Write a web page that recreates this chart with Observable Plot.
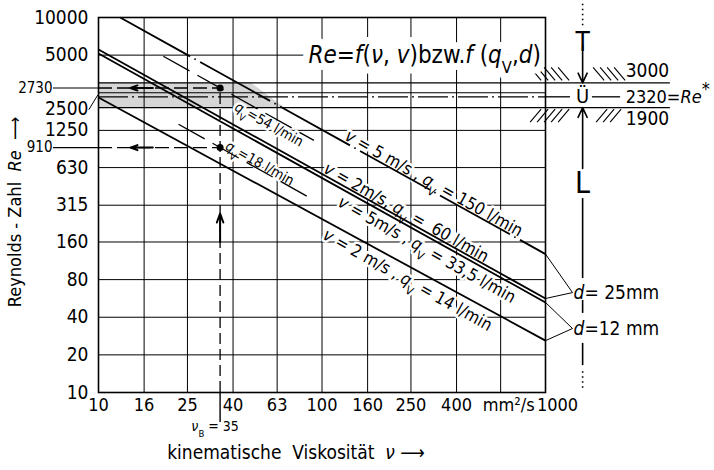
<!DOCTYPE html>
<html><head><meta charset="utf-8">
<script src="https://cdn.jsdelivr.net/npm/d3@7"></script>
<script src="https://cdn.jsdelivr.net/npm/@observablehq/plot@0.6"></script>
<style>html,body{margin:0;padding:0;background:#fff;}</style>
</head><body><div id="chart"></div>
<script>
const FONT = '"Liberation Sans Narrow","DejaVu Sans Condensed","Roboto",sans-serif';

// ---- axes ----
const xTicks = [10, 16, 25, 40, 63, 100, 160, 250, 400, 630, 1000];
const xTickLabels = ["10", "16", "25", "40", "63", "100", "160", "250", "400", "mm²/s", "1000"];
const yTicks = [10, 20, 40, 80, 160, 315, 630, 1250, 2500, 5000, 10000];
const yTickLabels = ["10", "20", "40", "80", "160", "315", "630", "1250", "2500", "5000", "10000"];

// ---- Re = f(nu) lines (end points) ----
const lineNames = ["v=5 m/s d=25", "v=2 m/s d=25", "v=5 m/s d=12", "v=2 m/s d=12"];
const lineNu0 = [12.5, 10, 10, 10];
const lineRe0 = [10000, 5550, 5150, 2290];
const lineNu1 = [1000, 1000, 1000, 1000];
const lineRe1 = [128, 56.5, 52.5, 26];
const lineLabels = [
  "<i>v</i> = 5 m/s , <i>q</i><sub>V</sub> = 150 l/min",
  "<i>v</i> = 2m/s, <i>q</i><sub>V</sub> =  60 l/min",
  "<i>v</i> = 5m/s , <i>q</i><sub>V</sub> = 33,5 l/min",
  "<i>v</i> = 2 m/s , <i>q</i><sub>V</sub> = 14 l/min"
];
const lineLabelNu = [125, 100.5, 123.6, 106];
const lineLabelRe = [1022, 560, 424, 232];

// ---- reading example ----
const nuB = 35;
const readRe = [2730, 910];
const readLabels = ["2730", "910"];
const readNu0 = [19.5, 22.8];
const readRe0 = [4900, 1400];
const readNu1 = [92, 87];
const readRe1 = [1040, 366];
const readFlow = ["<i>q</i><sub>V</sub>=54 l/min", "<i>q</i><sub>V</sub>=18 l/min"];
const readFlowNu = [42.3, 36.6];
const readFlowRe = [2265, 873];

// ---- transition zone ----
const reUpper = 3000, reCrit = 2320, reLower = 1900;
const zoneLabels = ["3000", "2320=<i>Re</i><hi>*</hi>", "1900"];
const bandNu = [10, 48, 68];
const bandLo = [1900, 1900, 1900];
const bandHi = [3000, 3000, 1900];

// ---- right-hand scale bar (layout anchors in data units) ----
const sideNu = 1466;
const dLabels = ["<i>d</i>= 25mm", "<i>d</i>=12 mm"];
const dJoinNu = 1321;
const dJoinRe = [63, 32.5];

// ---- tables ----
const reLines = lineNames.map((name, i) => ({name, nu0: lineNu0[i], re0: lineRe0[i], nu1: lineNu1[i], re1: lineRe1[i], label: lineLabels[i], lnu: lineLabelNu[i], lre: lineLabelRe[i]}));
const readLines = readRe.map((re, i) => ({re, label: readLabels[i], nu0: readNu0[i], re0: readRe0[i], nu1: readNu1[i], re1: readRe1[i], flow: readFlow[i], fnu: readFlowNu[i], fre: readFlowRe[i]}));
const band = bandNu.map((nu, i) => ({nu, lo: bandLo[i], hi: bandHi[i]}));
const xTab = xTicks.map((v, i) => ({v, label: xTickLabels[i]}));
const yTab = yTicks.map((v, i) => ({v, label: yTickLabels[i]}));
const dLeaders = [
  {nu: 1000, re: lineRe1[0], jre: dJoinRe[0]},
  {nu: 1000, re: lineRe1[1], jre: dJoinRe[0]},
  {nu: 1000, re: lineRe1[2], jre: dJoinRe[1]},
  {nu: 1000, re: lineRe1[3], jre: dJoinRe[1]}
];

// text with a white halo drawn as a separate layer underneath
function haloText(data, opts, w = 5) {
  return [
    Plot.text(data, {...opts, fill: "white", stroke: "white", strokeWidth: w}),
    Plot.text(data, {...opts, fill: "black"})
  ];
}

function hatchMark(index, scales) {
  const X = typeof scales.x === "function" ? scales.x : d3.scaleLog([10, 1000], [98, 545]);
  const Y = typeof scales.y === "function" ? scales.y : d3.scaleLog([10, 10000], [392, 17]);
  const g = d3.create("svg:g").attr("stroke", "black").attr("stroke-width", 1.1);
  const cx = X(sideNu), yt = Y(reUpper), yb = Y(reLower);
  for (const o of [-52, -45, -38, -31, -24, 11, 18, 25, 32]) {
    g.append("line").attr("x1", cx + o).attr("y1", yt - 15).attr("x2", cx + o + 11).attr("y2", yt - 2);
  }
  for (const o of [-52, -45, -38, -31, -24, 14, 21, 28]) {
    g.append("line").attr("x1", cx + o).attr("y1", yb + 15).attr("x2", cx + o + 11).attr("y2", yb + 2);
  }
  return g.node();
}

const chart = Plot.plot({
  width: 714, height: 470,
  marginLeft: 98, marginRight: 169, marginTop: 17, marginBottom: 78,
  x: {type: "log", domain: [10, 1000], axis: null},
  y: {type: "log", domain: [10, 10000], axis: null},
  style: {fontFamily: FONT, fontSize: "18px", background: "white", color: "black"},
  marks: [
    // shaded transition band
    Plot.areaY(band, {x: "nu", y1: "lo", y2: "hi", fill: "#d6d6d6"}),
    // grid
    Plot.ruleX(xTicks.slice(1, -1), {stroke: "black", strokeWidth: 1}),
    Plot.ruleY(yTicks.slice(1, -1), {stroke: "black", strokeWidth: 1}),
    // transition lines
    Plot.ruleY([reUpper, reLower], {x1: 10, x2: 3620, stroke: "black", strokeWidth: 1.4}),
    Plot.ruleY([reCrit], {x1: 10, x2: 1000, stroke: "black", strokeWidth: 1.3, strokeDasharray: "30,4,2,4"}),
    Plot.ruleY([reCrit], {x1: 1000, x2: 1294, stroke: "black", strokeWidth: 1.3}),
    Plot.ruleY([reCrit], {x1: 1622, x2: 2168, stroke: "black", strokeWidth: 1.3}),
    hatchMark,
    // tick labels
    Plot.text(yTab.filter(d => d.v !== 2500), {y: "v", text: "label", frameAnchor: "left", dx: -10, textAnchor: "end", fontSize: 19}),
    Plot.text(yTab.filter(d => d.v === 2500), {y: "v", text: "label", frameAnchor: "left", dx: -10, dy: 16, textAnchor: "end", fontSize: 19}),
    Plot.link([2500], {x1: 9.05, y1: 1830, x2: 9.93, y2: 2400, stroke: "black", strokeWidth: 1}),
    Plot.text(xTab.slice(0, 9), {x: "v", text: "label", frameAnchor: "bottom", dy: 18, fontSize: 18}),
    Plot.text(xTab.slice(9, 10), {x: "v", text: "label", frameAnchor: "bottom", dy: 18, dx: 8, fontSize: 18}),
    Plot.text(xTab.slice(10), {x: "v", text: "label", frameAnchor: "bottom", dy: 18, dx: 12, fontSize: 18}),
    // axis titles
    Plot.text(["Reynolds - Zahl  <i>Re</i>  ⟶"], {text: d => d, frameAnchor: "left", textAnchor: "middle", dx: -83, dy: 7, rotate: -90, fontSize: 18}),
    Plot.text(["kinematische  Viskosität  <i>ν</i> ⟶"], {text: d => d, frameAnchor: "bottom", textAnchor: "middle", dx: -26, dy: 66, fontSize: 19}),
    // title
    haloText(["<i>Re</i>=<i>f</i>(<i>ν</i>, <i>v</i>)bzw.<i>f</i> (<i>q</i><sub>V</sub>,<i>d</i>)"], {text: d => d, x: 87, y: 5000, textAnchor: "start", fontSize: 24}, 14),
    // line labels
    haloText(reLines.filter((d, i) => i < 2), {x: "lnu", y: "lre", text: "label", rotate: 29.2, textAnchor: "start", lineAnchor: "bottom", dy: -2, fontSize: 17}),
    haloText(reLines.filter((d, i) => i >= 2), {x: "lnu", y: "lre", text: "label", rotate: 29.2, textAnchor: "start", lineAnchor: "top", dy: 6, fontSize: 17}),
    haloText(readLines.filter((d, i) => i === 0), {x: "fnu", y: "fre", text: "flow", rotate: 29.2, textAnchor: "start", lineAnchor: "top", dy: 3, fontSize: 14}),
    haloText(readLines.filter((d, i) => i === 1), {x: "fnu", y: "fre", text: "flow", rotate: 29.2, textAnchor: "start", lineAnchor: "bottom", dy: -1, fontSize: 14}),
    // Re lines
    Plot.link(reLines.slice(0, 1), {x1: "nu0", y1: "re0", x2: "nu1", y2: "re1", stroke: "black", strokeWidth: 1.8, strokeDasharray: "80,5,1.5,5"}),
    Plot.link(reLines.slice(1), {x1: "nu0", y1: "re0", x2: "nu1", y2: "re1", stroke: "black", strokeWidth: 1.8}),
    // reading lines
    Plot.link(readLines, {x1: "nu0", y1: "re0", x2: "nu1", y2: "re1", stroke: "black", strokeWidth: 1.3, strokeDasharray: "30,9"}),
    Plot.ruleY(readLines, {y: "re", x1: 10, x2: nuB, stroke: "black", strokeWidth: 1.3, strokeDasharray: "14,5"}),
    Plot.ruleY(readLines, {y: "re", x1: 6.29, x2: 10, stroke: "black", strokeWidth: 1.2}),
    Plot.arrow(readLines, {x1: 17.5, x2: 13.9, y1: "re", y2: "re", stroke: "black", strokeWidth: 2, headLength: 12, headAngle: 40}),
    Plot.text(readLines, {x: 6.29, y: "re", text: "label", textAnchor: "end", dx: -1, fontSize: 15}),
    Plot.ruleX([nuB], {y1: 10, y2: readRe[0], stroke: "black", strokeWidth: 1.3, strokeDasharray: "11,5"}),
    Plot.ruleX([nuB], {y1: 5.75, y2: 10, stroke: "black", strokeWidth: 1.4}),
    Plot.arrow([nuB], {x1: d => d, x2: d => d, y1: 160, y2: 270, stroke: "black", strokeWidth: 2, headLength: 12, headAngle: 40}),
    Plot.text([nuB], {x: d => d, text: d => `<i>ν</i><sub>B</sub> = ${d}`, frameAnchor: "bottom", textAnchor: "middle", dy: 38, dx: -5, fontSize: 14}),
    Plot.dot(readLines, {x: nuB, y: "re", r: 3.5, fill: "black"}),
    // right-hand scale bar
    Plot.ruleX([sideNu], {y1: 8600, y2: 12900, stroke: "black", strokeWidth: 1.6, strokeDasharray: "1.5,3.5"}),
    Plot.ruleX([sideNu], {y1: 10.8, y2: 15, stroke: "black", strokeWidth: 1.6, strokeDasharray: "1.5,3.5"}),
    Plot.ruleX([[356, 81.7], [54.5, 42.9], [24.7, 16.4]], {x: sideNu, y1: d => d[0], y2: d => d[1], stroke: "black", strokeWidth: 1.6}),
    Plot.arrow([0], {x1: sideNu, x2: sideNu, y1: 5970, y2: reUpper, stroke: "black", strokeWidth: 1.6, headLength: 10, headAngle: 50}),
    Plot.arrow([0], {x1: sideNu, x2: sideNu, y1: 620, y2: reLower, stroke: "black", strokeWidth: 1.6, headLength: 10, headAngle: 50}),
    Plot.text(["T"], {text: d => d, x: sideNu, y: 6310, fontSize: 26}),
    Plot.text(["Ü"], {text: d => d, x: sideNu, y: reCrit, fontSize: 20}),
    Plot.text(["L"], {text: d => d, x: sideNu, y: 470, fontSize: 30}),
    Plot.text([zoneLabels[0]], {text: d => d, x: sideNu, y: reUpper, dx: 43, dy: -12, textAnchor: "start", fontSize: 19}),
    Plot.text([zoneLabels[1]], {text: d => d, x: sideNu, y: reCrit, dx: 43, textAnchor: "start", fontSize: 18}),
    Plot.text([zoneLabels[2]], {text: d => d, x: sideNu, y: reLower, dx: 43, dy: 11, textAnchor: "start", fontSize: 19}),
    Plot.link(dLeaders, {x1: "nu", y1: "re", x2: dJoinNu, y2: "jre", stroke: "black", strokeWidth: 1}),
    Plot.text(dLabels, {text: d => d, x: dJoinNu, y: (d, i) => dJoinRe[i], dx: 1, textAnchor: "start", fontSize: 19}),
    Plot.frame({stroke: "black", strokeWidth: 1.6})
  ]
});

// rich text: italic, sub- and superscripts as tspans
const svgns = "http://www.w3.org/2000/svg";
chart.querySelectorAll("text").forEach(el => {
  const s = el.textContent;
  if (!/<(i|sub|sup|hi)>/.test(s)) return;
  while (el.firstChild) el.removeChild(el.firstChild);
  const re = /<(i|sub|sup|hi)>(.*?)<\/\1>|([^<]+)/g;
  let m;
  while ((m = re.exec(s)) !== null) {
    const t = document.createElementNS(svgns, "tspan");
    if (m[3] !== undefined) t.textContent = m[3];
    else {
      t.textContent = m[2];
      if (m[1] === "i") t.setAttribute("font-style", "italic");
      if (m[1] === "sub") { t.setAttribute("baseline-shift", "sub"); t.setAttribute("font-size", "68%"); }
      if (m[1] === "sup") { t.setAttribute("baseline-shift", "super"); t.setAttribute("font-size", "70%"); }
      if (m[1] === "hi") { t.setAttribute("baseline-shift", "45%"); }
    }
    el.appendChild(t);
  }
});
document.getElementById("chart").appendChild(chart);
</script>
</body></html>
